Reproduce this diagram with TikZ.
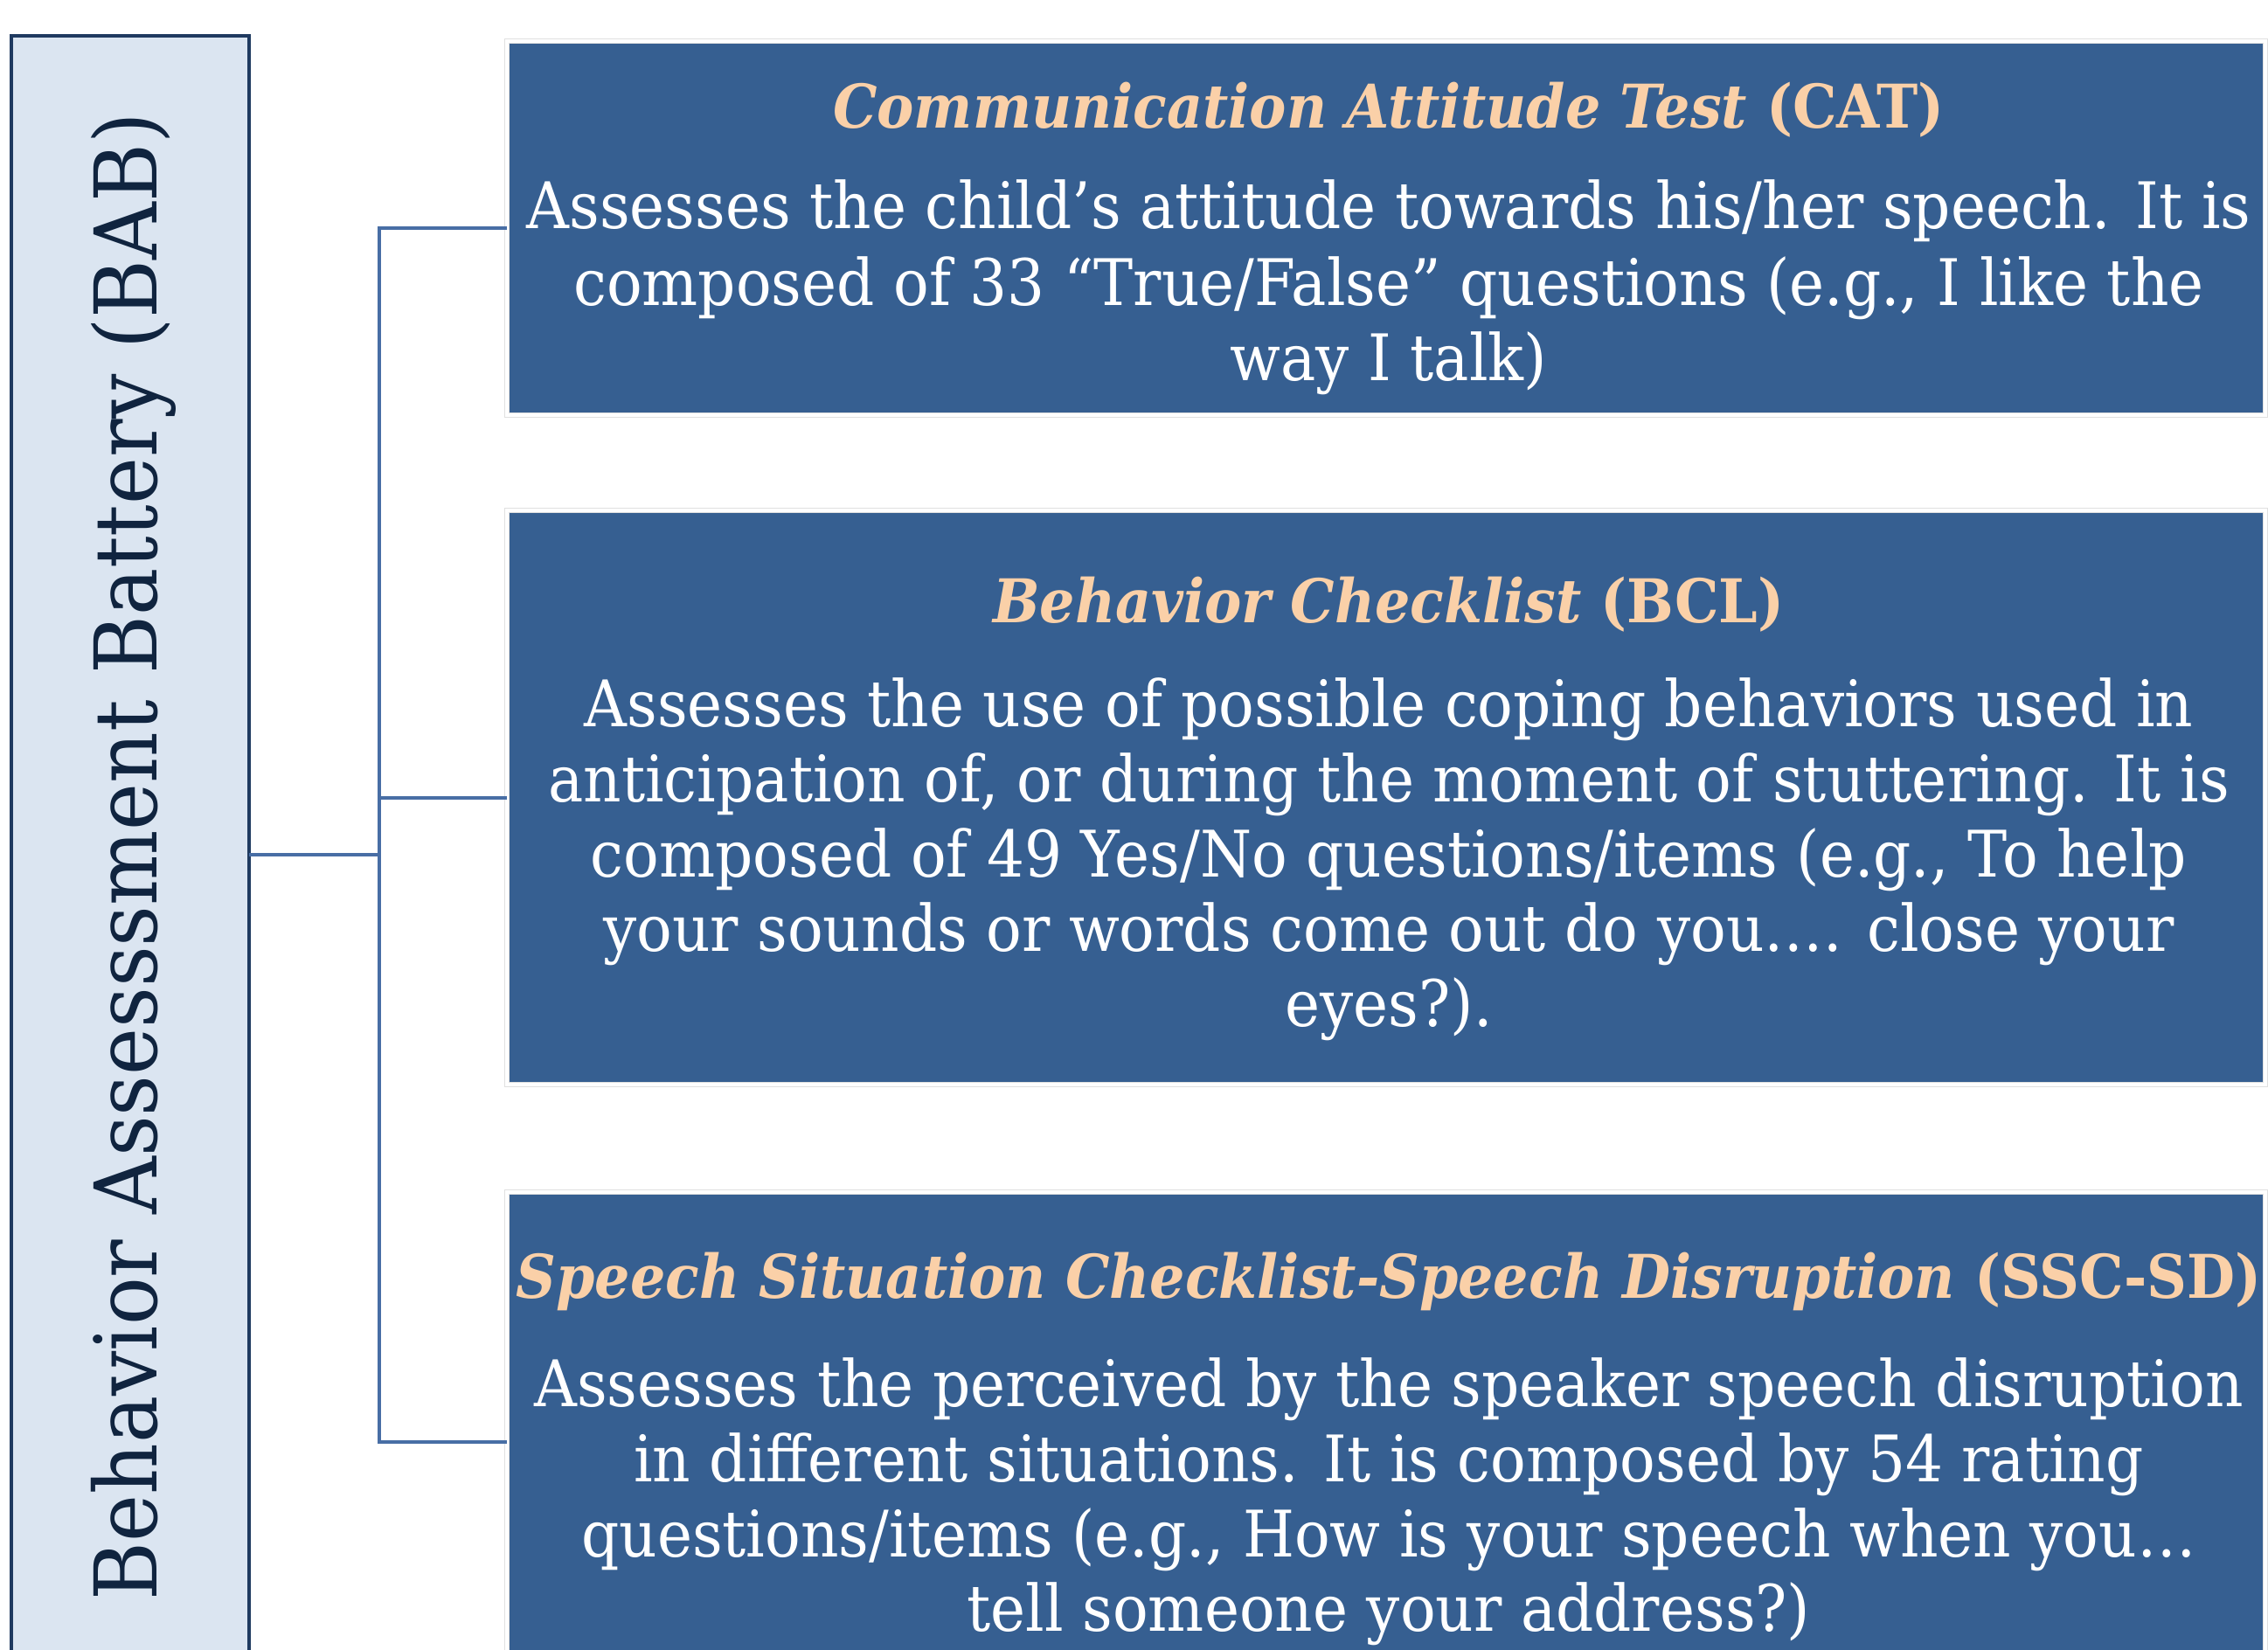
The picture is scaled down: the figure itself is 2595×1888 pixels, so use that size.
\documentclass[tikz,border=0pt]{standalone}
\usepackage{fontspec}
\setmainfont{DejaVu Serif}[FakeStretch=0.92]
\definecolor{babfill}{HTML}{DBE5F1}
\definecolor{babline}{HTML}{1F3A60}
\definecolor{babtext}{HTML}{10243F}
\definecolor{boxfill}{HTML}{365F91}
\definecolor{peach}{RGB}{250,208,168}
\definecolor{conn}{RGB}{72,110,165}
\tikzset{
  bluebox/.style={rectangle, fill=boxfill, draw=black!12, double=white,
    double distance=4.5pt, line width=0.8pt, inner sep=0pt, outer sep=0pt},
  bodyline/.style={text=white, anchor=base, inner sep=0pt,
    font=\fontsize{73.5}{86}\selectfont},
  titleline/.style={text=peach, anchor=base, inner sep=0pt,
    font=\fontsize{69}{86}\selectfont\bfseries},
  link/.style={draw=conn, line width=4pt},
}
\begin{document}
\begin{tikzpicture}[x=1pt,y=-1pt]
\fill[white] (0,0) rectangle (2595,1888);
\useasboundingbox (0,0) rectangle (2595,1888);
\begin{scope}
\clip (0,0) rectangle (2595,1888);

% left box
\node[rectangle, fill=babfill, draw=babline, line width=4pt, inner sep=0pt, outer sep=0pt,
  minimum width=272pt, minimum height=1874pt] (bab) at (149,978) {};
\node[rotate=90, text=babtext, inner sep=0pt, font=\fontsize{99}{110}\selectfont]
  (babt) at (153,980) {Behavior Assesssment Battery (BAB)};

% blue boxes
\node[bluebox, minimum width=2012pt, minimum height=428pt] (cat) at (1586,261) {};
\node[bluebox, minimum width=2012pt, minimum height=657pt] (bcl) at (1586,912.5) {};
\node[bluebox, minimum width=2012pt, minimum height=572pt] (ssc) at (1586,1650) {};

% connectors
\coordinate (trunk) at (434,978);
\draw[link] (bab.east) -- (bab.east -| trunk);
\draw[link] (cat.west) -- (cat.west -| trunk) -- (ssc.west -| trunk) -- (ssc.west);
\draw[link] (bcl.west -| trunk) -- (bcl.west);

% CAT text
\node[titleline] (catt) at (1589,146) {{\itshape Communication Attitude Test} (CAT)};
\node[bodyline] (cat1) at (1589,261) {Assesses the child’s attitude towards his/her speech. It is};
\node[bodyline] (cat2) at (1589,349) {composed of 33 “True/False” questions (e.g., I like the};
\node[bodyline] (cat3) at (1589,435) {way I talk)};

% BCL text
\node[titleline] (bclt) at (1589,712) {{\itshape Behavior Checklist} (BCL)};
\node[bodyline] (bcl1) at (1589,831) {Assesses the use of possible coping behaviors used in};
\node[bodyline] (bcl2) at (1589,917) {anticipation of, or during the moment of stuttering. It is};
\node[bodyline] (bcl3) at (1589,1003) {composed of 49 Yes/No questions/items (e.g., To help};
\node[bodyline] (bcl4) at (1589,1088) {your sounds or words come out do you…. close your};
\node[bodyline] (bcl5) at (1589,1174) {eyes?).};

% SSC-SD text
\node[titleline] (ssct) at (1589,1485) {{\itshape Speech Situation Checklist-Speech Disruption} (SSC-SD)};
\node[bodyline] (ssc1) at (1589,1609) {Assesses the perceived by the speaker speech disruption};
\node[bodyline] (ssc2) at (1589,1695) {in different situations. It is composed by 54 rating};
\node[bodyline] (ssc3) at (1589,1781) {questions/items (e.g.,  How is your speech when you…};
\node[bodyline] (ssc4) at (1589,1866) {tell someone your address?)};
\end{scope}
\end{tikzpicture}
\end{document}
